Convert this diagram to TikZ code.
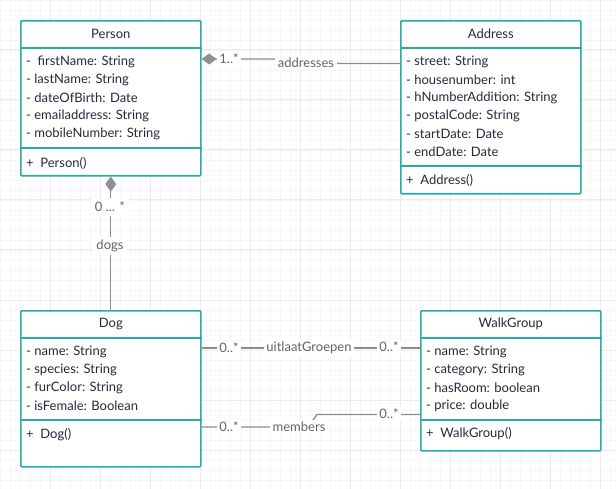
\documentclass[tikz,border=0pt]{standalone}
\usepackage{fontspec}
\setmainfont{Lato}
\usetikzlibrary{arrows.meta,positioning,calc}
\definecolor{clsedge}{RGB}{40,172,167}
\definecolor{txtdark}{RGB}{40,40,60}
\definecolor{lblgrey}{RGB}{100,100,100}
\definecolor{linkgrey}{RGB}{140,140,140}
\definecolor{diagrey}{RGB}{145,145,145}
\definecolor{gridlo}{RGB}{246,246,246}
\definecolor{gridhi}{RGB}{235,235,235}

\begin{document}
\begin{tikzpicture}[x=1pt,y=-1pt,
  cls/.style={draw=clsedge,line width=1.6pt,fill=white,anchor=north west,inner sep=0pt,rounded corners=1pt},
  sep/.style={draw=clsedge,line width=1.6pt},
  ttl/.style={font=\fontsize{13}{15}\selectfont,text=txtdark},
  fld/.style={anchor=west,font=\fontsize{13}{15}\selectfont,text=txtdark,inner sep=0pt},
  assoc/.style={draw=linkgrey,line width=1.3pt},
  lbl/.style={fill=white,text=lblgrey,font=\fontsize{13}{15}\selectfont,inner sep=2.5pt},
  comp/.style={{Diamond[length=15pt,width=11pt,fill=diagrey,color=diagrey]}-}]
  \useasboundingbox[fill=white] (0,0) rectangle (616,489);

  % background grid
  \foreach \gx in {0,10,...,610} \draw[gridlo,line width=0.8pt] (\gx,0) -- (\gx,489);
  \foreach \gy in {0,10,...,480} \draw[gridlo,line width=0.8pt] (0,\gy) -- (616,\gy);
  \foreach \gx in {50,100,...,600} \draw[gridhi,line width=1pt] (\gx,0) -- (\gx,489);
  \foreach \gy in {50,100,...,450} \draw[gridhi,line width=1pt] (0,\gy) -- (616,\gy);

  % classes
  \node[cls,minimum width=180pt,minimum height=155pt] (person) at (20,20) {};
  \node[cls,minimum width=180pt,minimum height=173pt] (address) at (400,20) {};
  \node[cls,minimum width=180pt,minimum height=156pt] (dog) at (20,310) {};
  \node[cls,minimum width=180pt,minimum height=140pt] (walkgroup) at (420,310) {};

  \draw[sep] ([yshift=-28pt]person.north west) -- ([yshift=-28pt]person.north east);
  \draw[sep] ([yshift=-128pt]person.north west) -- ([yshift=-128pt]person.north east);
  \draw[sep] ([yshift=-28pt]address.north west) -- ([yshift=-28pt]address.north east);
  \draw[sep] ([yshift=-146pt]address.north west) -- ([yshift=-146pt]address.north east);
  \draw[sep] ([yshift=-28pt]dog.north west) -- ([yshift=-28pt]dog.north east);
  \draw[sep] ([yshift=-110pt]dog.north west) -- ([yshift=-110pt]dog.north east);
  \draw[sep] ([yshift=-28pt]walkgroup.north west) -- ([yshift=-28pt]walkgroup.north east);
  \draw[sep] ([yshift=-110pt]walkgroup.north west) -- ([yshift=-110pt]walkgroup.north east);

  \node[ttl] (persontitle) at ([yshift=-14pt]person.north) {Person};
  \node[ttl] (addresstitle) at ([yshift=-14pt]address.north) {Address};
  \node[ttl] (dogtitle) at ([yshift=-14pt]dog.north) {Dog};
  \node[ttl] (walkgrouptitle) at ([yshift=-14pt]walkgroup.north) {WalkGroup};

  \foreach \txt [count=\i] in {{-~ firstName: String},{- lastName: String},{- dateOfBirth: Date},
      {- emailaddress: String},{- mobileNumber: String}}
    \node[fld] (pf\i) at (26,44+18*\i) {\txt};
  \node[fld] (pm) at (26,163) {+~ Person()};

  \foreach \txt [count=\i] in {{- street: String},{- housenumber: int},{- hNumberAddition: String},
      {- postalCode: String},{- startDate: Date},{- endDate: Date}}
    \node[fld] (af\i) at (406,44+18*\i) {\txt};
  \node[fld] (am) at (406,180) {+~ Address()};

  \foreach \txt [count=\i] in {{- name: String},{- species: String},{- furColor: String},{- isFemale: Boolean}}
    \node[fld] (df\i) at (26,334+18*\i) {\txt};
  \node[fld] (dm) at (26,435) {+~ Dog()};

  \foreach \txt [count=\i] in {{- name: String},{- category: String},{- hasRoom: boolean},{- price: double}}
    \node[fld] (wf\i) at (426,334+18*\i) {\txt};
  \node[fld] (wm) at (426,434) {+~ WalkGroup()};

  % connector ends
  \coordinate (pa1) at ([yshift=-39pt]person.north east);
  \coordinate (pa2) at ([yshift=-43.5pt]address.north west);
  \coordinate (dw1) at ([yshift=-38pt]dog.north east);
  \coordinate (dw2) at ([yshift=-38pt]walkgroup.north west);
  \coordinate (dw3) at ([yshift=-117pt]dog.north east);
  \coordinate (dw4) at ([yshift=-104.5pt]walkgroup.north west);

  % associations
  \draw[assoc,comp] (pa1) -- (275,59) -- (340,63.5) -- (pa2);
  \node[lbl] (pamult) at (229,59) {1..*};
  \node[lbl] (paname) at (306,63) {addresses};

  \draw[assoc,comp] (person.south) -- (dog.north);
  \node[lbl,inner sep=4pt] (pdmult) at (110,207) {0 ... *};
  \node[lbl,inner sep=3pt] (pdname) at (110,246) {dogs};

  \draw[assoc] (dw1) -- (dw2);
  \node[lbl] (dwmult1) at (229,348) {0..*};
  \node[lbl] (dwname) at (309,348) {uitlaatGroepen};
  \node[lbl] (dwmult2) at (389,347) {0..*};

  \draw[assoc] (dw3) -- (308,427) -- (317,414.5) -- (dw4);
  \node[lbl] (mmult1) at (229,427) {0..*};
  \node[lbl] (mname) at (299,427) {members};
  \node[lbl] (mmult2) at (389,414) {0..*};
\end{tikzpicture}
\end{document}
